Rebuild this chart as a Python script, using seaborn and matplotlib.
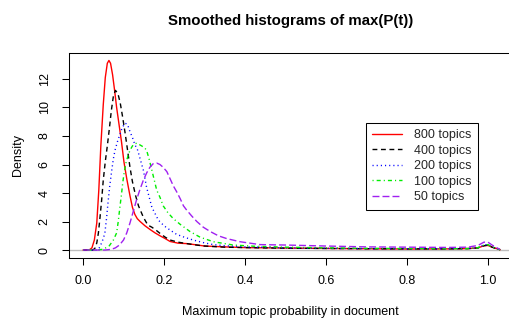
import matplotlib
matplotlib.use("Agg")
import matplotlib.pyplot as plt
import seaborn as sns
import pandas as pd

# ---- data ----
labels = ["800 topics", "400 topics", "200 topics", "100 topics", "50 topics"]

x800 = [0.000, 0.015, 0.022, 0.028, 0.034, 0.039, 0.044, 0.050, 0.055, 0.060, 0.064, 0.068,
        0.073, 0.078, 0.083, 0.089, 0.095, 0.101, 0.108, 0.116, 0.122, 0.128, 0.134, 0.141,
        0.153, 0.165, 0.178, 0.190, 0.203, 0.215, 0.235, 0.256, 0.275, 0.300, 0.350, 0.400,
        0.500, 0.600, 0.700, 0.800, 0.900, 0.950, 0.975, 0.990, 1.000, 1.010, 1.030]
y800 = [0.00, 0.00, 0.15, 0.7, 1.9, 4.2, 7.3, 10.2, 12.1, 13.1, 13.3, 13.1,
        12.3, 11.2, 10.0, 8.8, 7.6, 6.2, 5.0, 3.8, 3.0, 2.5, 2.2, 2.0,
        1.7, 1.45, 1.2, 1.0, 0.8, 0.6, 0.48, 0.45, 0.38, 0.28, 0.22, 0.17,
        0.14, 0.11, 0.09, 0.07, 0.08, 0.10, 0.15, 0.30, 0.32, 0.20, 0.02]

x400 = [0.000, 0.025, 0.030, 0.034, 0.038, 0.042, 0.046, 0.050, 0.055, 0.060, 0.065, 0.070,
        0.075, 0.080, 0.086, 0.092, 0.098, 0.104, 0.110, 0.116, 0.122, 0.130, 0.137, 0.149,
        0.160, 0.170, 0.180, 0.190, 0.203, 0.215, 0.235, 0.256, 0.280, 0.300, 0.350, 0.400,
        0.500, 0.600, 0.700, 0.800, 0.900, 0.950, 0.975, 0.990, 1.000, 1.010, 1.030]
y400 = [0.00, 0.00, 0.15, 0.5, 1.2, 2.3, 3.5, 4.9, 6.2, 7.3, 8.5, 9.8,
        10.8, 11.2, 11.0, 10.3, 9.3, 8.2, 7.0, 5.8, 4.8, 3.8, 3.1, 2.3,
        1.75, 1.6, 1.4, 1.17, 0.9, 0.7, 0.55, 0.45, 0.35, 0.28, 0.20, 0.17,
        0.13, 0.11, 0.09, 0.08, 0.08, 0.10, 0.15, 0.30, 0.35, 0.20, 0.02]

x200 = [0.000, 0.034, 0.040, 0.046, 0.050, 0.054, 0.058, 0.062, 0.066, 0.071, 0.075, 0.079,
        0.085, 0.091, 0.097, 0.104, 0.110, 0.116, 0.122, 0.128, 0.135, 0.141, 0.149, 0.157,
        0.170, 0.186, 0.200, 0.215, 0.231, 0.250, 0.272, 0.300, 0.322, 0.350, 0.400, 0.500,
        0.600, 0.700, 0.800, 0.900, 0.950, 0.975, 0.990, 1.000, 1.010, 1.030]
y200 = [0.00, 0.00, 0.15, 0.5, 0.8, 1.2, 2.2, 3.4, 4.5, 5.6, 6.4, 7.0,
        7.6, 8.1, 8.6, 8.9, 8.8, 8.3, 7.9, 7.4, 7.0, 6.4, 5.6, 4.4,
        3.0, 2.1, 1.7, 1.4, 1.1, 0.9, 0.7, 0.5, 0.38, 0.30, 0.22, 0.15,
        0.12, 0.10, 0.09, 0.09, 0.10, 0.16, 0.35, 0.38, 0.22, 0.02]

x100 = [0.000, 0.030, 0.050, 0.065, 0.075, 0.083, 0.087, 0.091, 0.095, 0.098, 0.102, 0.106,
        0.111, 0.116, 0.122, 0.128, 0.133, 0.139, 0.145, 0.151, 0.157, 0.164, 0.170, 0.176,
        0.182, 0.190, 0.198, 0.210, 0.223, 0.240, 0.264, 0.289, 0.322, 0.371, 0.420, 0.500,
        0.600, 0.700, 0.800, 0.900, 0.950, 0.975, 0.990, 1.000, 1.010, 1.030]
y100 = [0.00, 0.00, 0.05, 0.3, 0.7, 1.2, 2.0, 3.0, 3.9, 4.7, 5.5, 6.1,
        6.6, 7.0, 7.3, 7.45, 7.5, 7.4, 7.3, 7.2, 7.0, 6.3, 5.6, 4.9,
        4.2, 3.7, 3.1, 2.6, 2.2, 1.8, 1.3, 0.9, 0.58, 0.35, 0.27, 0.20,
        0.15, 0.12, 0.10, 0.09, 0.10, 0.16, 0.35, 0.38, 0.22, 0.02]

x50 = [0.000, 0.055, 0.070, 0.080, 0.090, 0.100, 0.108, 0.116, 0.124, 0.132, 0.140, 0.149,
       0.157, 0.165, 0.173, 0.182, 0.190, 0.198, 0.207, 0.215, 0.223, 0.231, 0.240, 0.248,
       0.256, 0.268, 0.281, 0.297, 0.314, 0.334, 0.355, 0.388, 0.437, 0.500, 0.600, 0.700,
       0.800, 0.900, 0.950, 0.975, 0.990, 1.000, 1.010, 1.030]
y50 = [0.00, 0.00, 0.05, 0.15, 0.35, 0.7, 1.2, 1.9, 2.7, 3.5, 4.2, 4.9,
       5.4, 5.8, 6.05, 6.1, 6.0, 5.8, 5.5, 5.0, 4.5, 4.1, 3.6, 3.1,
       2.8, 2.4, 2.0, 1.6, 1.3, 1.0, 0.8, 0.58, 0.38, 0.35, 0.28, 0.22,
       0.20, 0.18, 0.20, 0.32, 0.55, 0.55, 0.35, 0.03]

xticks = [0.0, 0.2, 0.4, 0.6, 0.8, 1.0]
xtick_labels = ["0.0", "0.2", "0.4", "0.6", "0.8", "1.0"]
yticks = [0, 2, 4, 6, 8, 10, 12]
ytick_labels = ["0", "2", "4", "6", "8", "10", "12"]

title = "Smoothed histograms of max(P(t))"
xlabel = "Maximum topic probability in document"
ylabel = "Density"

# ---- styling ----
sns.set_theme(style="ticks")
plt.rcParams["font.family"] = ["Liberation Sans", "DejaVu Sans"]
BASE = 9.0

W, H = 510, 318
fig = plt.figure(figsize=(W / 100, H / 100), dpi=100)
fig.patch.set_facecolor("white")
left, right, top, bottom = 69, 516, 52.9, 257.6
ax = fig.add_axes([left / W, 1 - bottom / H, (right - left) / W, (bottom - top) / H])
ax.set_facecolor("white")

series = [
    (x800, y800, "#FF0000", "-"),
    (x400, y400, "#000000", (0, (3.5, 2.6))),
    (x200, y200, "#0000FF", (0, (0.8, 2.2))),
    (x100, y100, "#00EE00", (0, (0.8, 2.2, 2.9, 2.2))),
    (x50, y50, "#A020F0", (0, (5.0, 2.2))),
]

ax.axhline(0, color="#BEBEBE", lw=1.0, zorder=1)
for (xs, ys, col, ls), lab in zip(series, labels):
    df = pd.DataFrame({"x": xs, "y": ys})
    sns.lineplot(data=df, x="x", y="y", ax=ax, color=col, linestyle=ls,
                 lw=1.0, label=lab, estimator=None, zorder=3)

ax.set_xlim(-0.0346, (right - 83) / 405)
ax.set_ylim(-0.532, 13.83)
ax.set_xticks(xticks)
ax.set_xticklabels(xtick_labels)
ax.set_yticks(yticks)
ax.set_yticklabels(ytick_labels, rotation=90, va="center")
ax.tick_params(axis="both", direction="out", length=5.2, width=0.75,
               color="black", labelsize=BASE, labelcolor="black")
ax.tick_params(axis="x", pad=7.5)
ax.tick_params(axis="y", pad=8.0)
for s in ax.spines.values():
    s.set_visible(True)
    s.set_color("black")
    s.set_linewidth(0.75)
ax.grid(False)

ax.set_xlabel("")
ax.set_ylabel("")
fig.text(290.5 / W, 1 - 311.7 / H, xlabel, ha="center", va="center",
         fontsize=BASE, color="black")
fig.text(18 / W, 1 - 155 / H, ylabel, ha="center", va="center", rotation=90,
         fontsize=BASE, color="black")
fig.text(290.5 / W, 1 - 20.5 / H, title, ha="center", va="center",
         fontsize=BASE * 1.2, fontweight="bold", color="black")

leg = ax.legend(loc="upper left", bbox_to_anchor=(366 / W, 1 - 123 / H),
                bbox_transform=fig.transFigure, borderaxespad=0,
                frameon=True, fancybox=False, framealpha=1, edgecolor="black",
                fontsize=BASE, handlelength=2.4, handletextpad=0.95,
                labelspacing=0.28, borderpad=0.5)
leg.get_frame().set_linewidth(0.75)

fig.savefig("out.png", dpi=100, facecolor="white")
